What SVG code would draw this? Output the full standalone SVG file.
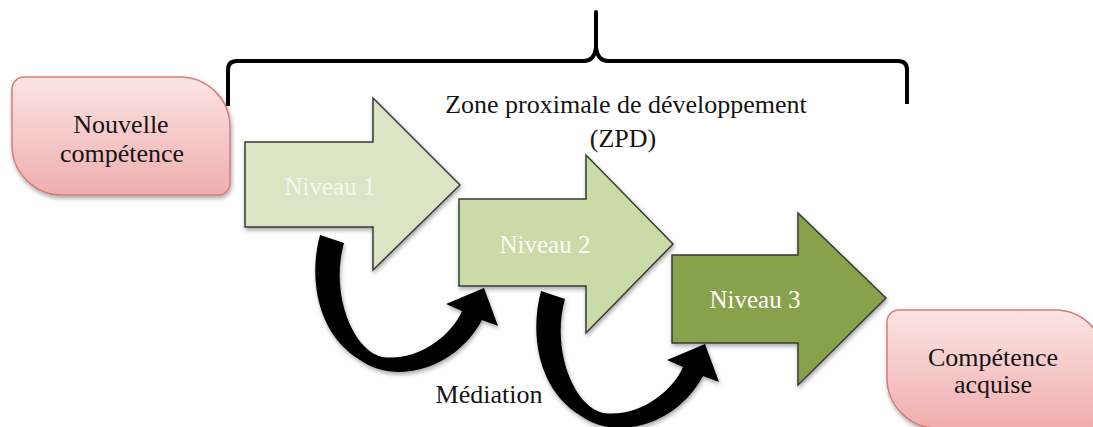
<svg xmlns="http://www.w3.org/2000/svg" width="1093" height="427" viewBox="0 0 1093 427">
<style>
  text { font-family: 'Liberation Serif', 'DejaVu Serif', serif; font-size: 26px; text-anchor: middle; }
  .dark { fill: #151515; }
  .nv { font-size: 25px; }
  .niv { stroke: #3a3a3a; stroke-width: 1.5; stroke-linejoin: miter; }
  .box { fill: url(#pink); stroke: #d27f7b; stroke-width: 1.5; }
  .curve { fill: #000; }
</style>
<defs>
  <linearGradient id="pink" x1="0" y1="0" x2="0" y2="1">
    <stop offset="0" stop-color="#fbe4e4"/>
    <stop offset="1" stop-color="#f0aeae"/>
  </linearGradient>
  <filter id="sh" x="-10%" y="-10%" width="125%" height="130%">
    <feDropShadow dx="1" dy="2.5" stdDeviation="2" flood-color="#000" flood-opacity="0.35"/>
  </filter>
</defs>

<g id="brace">
  <path d="M 228 106 V 70 Q 228 61 237 61 H 584 Q 594 61 596 48 V 12 V 48 Q 598 61 608 61 H 898 Q 907 61 907 70 V 104" fill="none" stroke="#000" stroke-width="4" stroke-linejoin="round"/>
</g>

<g id="zpd-label">
  <text class="dark" x="626" y="113">Zone proximale de développement</text>
  <text class="dark" x="623" y="147">(ZPD)</text>
</g>

<g id="nouvelle">
  <path class="box" filter="url(#sh)" d="M 24 77 H 180 A 50 50 0 0 1 230 127 V 183 A 12 12 0 0 1 218 195 H 62 A 50 50 0 0 1 12 145 V 89 A 12 12 0 0 1 24 77 Z"/>
  <text class="dark" x="121" y="133">Nouvelle</text>
  <text class="dark" x="122" y="162">compétence</text>
</g>

<g id="acquise">
  <path class="box" filter="url(#sh)" d="M 899 310 H 1055 A 50 50 0 0 1 1105 360 V 416 A 12 12 0 0 1 1093 428 H 937 A 50 50 0 0 1 887 378 V 322 A 12 12 0 0 1 899 310 Z"/>
  <text class="dark" x="993" y="366">Compétence</text>
  <text class="dark" x="993" y="393">acquise</text>
</g>

<g id="niveau1">
  <path class="niv" filter="url(#sh)" fill="#dbe5c5" d="M 245 142 H 373 V 98 L 460 185 L 373 270 V 227 H 245 Z"/>
  <text class="nv" x="330" y="195" fill="#f4f7ec">Niveau 1</text>
</g>

<g id="niveau2">
  <path class="niv" filter="url(#sh)" fill="#cbdba8" d="M 459 199 H 586 V 155 L 673 244 L 586 333 V 286 H 459 Z"/>
  <text class="nv" x="545" y="253" fill="#fbfdf6">Niveau 2</text>
</g>

<g id="niveau3">
  <path class="niv" filter="url(#sh)" fill="#87a24c" d="M 672 255 H 798 V 213 L 886 298 L 798 385 V 343 H 672 Z"/>
  <text class="nv" x="755" y="308" fill="#ffffff">Niveau 3</text>
</g>

<g id="connectors">
  <path id="med1" class="curve" filter="url(#sh)" d="M 320 235 C 308 280, 318 335, 360 360 C 395 385, 455 370, 482 320 L 498 326 L 484 288 L 446 304 L 462 311 C 452 335, 418 362, 382 357 C 352 350, 330 292, 344 243 Z"/>
  <path id="med2" class="curve" filter="url(#sh)" transform="translate(221,56)" d="M 320 235 C 308 280, 318 335, 360 360 C 395 385, 455 370, 482 320 L 498 326 L 484 288 L 446 304 L 462 311 C 452 335, 418 362, 382 357 C 352 350, 330 292, 344 243 Z"/>
</g>

<g id="mediation">
  <text class="dark" x="489" y="403">Médiation</text>
</g>
</svg>
